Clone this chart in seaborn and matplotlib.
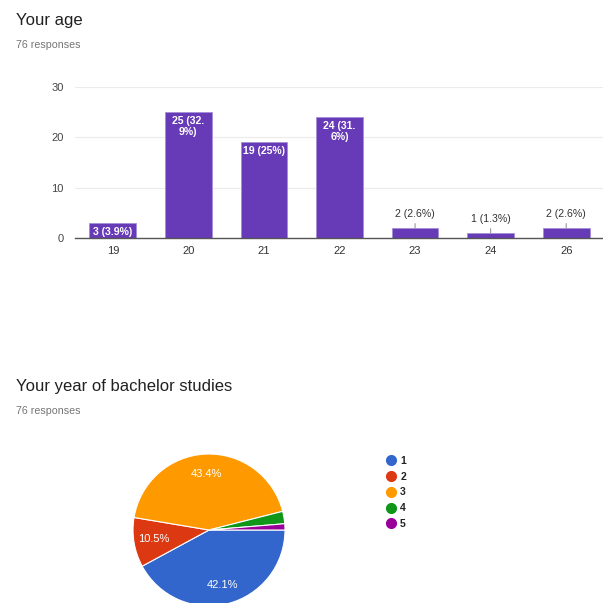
import matplotlib
matplotlib.use('Agg')
import matplotlib.pyplot as plt
from matplotlib.lines import Line2D
import seaborn as sns
import pandas as pd
import numpy as np

# ---- data ----
ages = ['19', '20', '21', '22', '23', '24', '26']
age_counts = [3, 25, 19, 24, 2, 1, 2]
age_labels = ['3 (3.9%)', '25 (32.\n9%)', '19 (25%)', '24 (31.\n6%)',
              '2 (2.6%)', '1 (1.3%)', '2 (2.6%)']
age_yticks = [0, 10, 20, 30]

year_labels = ['1', '2', '3', '4', '5']
year_counts = [32, 8, 33, 2, 1]
year_pct_text = ['42.1%', '10.5%', '43.4%', '', '']
year_colors = ['#3366cc', '#dc3912', '#ff9900', '#109618', '#990099']

title1 = 'Your age'
title2 = 'Your year of bachelor studies'
subtitle = '76 responses'

# ---- style ----
sns.set_theme(style='white')
plt.rcParams['font.family'] = ['Liberation Sans', 'DejaVu Sans']

W = H = 603
fig = plt.figure(figsize=(W / 100, H / 100), dpi=100)
fig.patch.set_facecolor('white')


def px(x, y):
    return x / W, 1 - y / H


def box(left, top, width, height):
    return [left / W, 1 - (top + height) / H, width / W, height / H]


# titles
fig.text(*px(16, 21), title1, fontsize=12, color='#212121', va='center', ha='left')
fig.text(*px(16, 45), subtitle, fontsize=7.7, color='#757575', va='center', ha='left')
fig.text(*px(16, 387), title2, fontsize=12, color='#212121', va='center', ha='left')
fig.text(*px(16, 411), subtitle, fontsize=7.7, color='#757575', va='center', ha='left')

# ---- bar chart ----
ax = fig.add_axes(box(75, 87, 529, 151))
df = pd.DataFrame({'age': ages, 'count': age_counts})
sns.barplot(data=df, x='age', y='count', order=ages, color='#673ab7',
            saturation=1, width=0.62, edgecolor='#a58fd6', linewidth=0.6, ax=ax)
ax.set_ylim(0, 30)
ax.set_xlim(-0.5, len(ages) - 0.5)
ax.set_yticks(age_yticks)
ax.yaxis.grid(True, color='#ebebeb', linewidth=0.8)
ax.set_axisbelow(True)
for s in ['top', 'right', 'left']:
    ax.spines[s].set_visible(False)
ax.spines['bottom'].set_color('#555555')
ax.spines['bottom'].set_linewidth(1.0)
ax.set_xlabel('')
ax.set_ylabel('')
ax.tick_params(axis='y', length=0, pad=8, labelsize=8, labelcolor='#444444')
ax.tick_params(axis='x', length=0, pad=6, labelsize=8, labelcolor='#333333')

for i, (v, lab) in enumerate(zip(age_counts, age_labels)):
    if v >= 3:
        ax.annotate(lab, xy=(i, v), xytext=(0, -4), textcoords='offset pixels',
                    ha='center', va='top', color='white', fontsize=7.6,
                    fontweight='bold', linespacing=1.15)
    else:
        ax.annotate(lab, xy=(i, v), xytext=(0, 14), textcoords='offset pixels',
                    ha='center', va='center', color='#333333', fontsize=7.6,
                    arrowprops=dict(arrowstyle='-', color='#999999', lw=0.8,
                                    shrinkA=1, shrinkB=0),
                    annotation_clip=False)

# ---- pie chart ----
R = 76
pax = fig.add_axes(box(209 - R, 530 - R, 2 * R, 2 * R))
wedges, _ = pax.pie(year_counts, colors=year_colors, startangle=0,
                    counterclock=False,
                    wedgeprops=dict(edgecolor='white', linewidth=0.8, clip_on=False))
pax.set_xlim(-1, 1)
pax.set_ylim(-1, 1)
pax.set_aspect('equal')
pax.axis('off')

total = sum(year_counts)
angle = 0.0
for c, t in zip(year_counts, year_pct_text):
    span = 360.0 * c / total
    mid = np.deg2rad(angle - span / 2)
    angle -= span
    if t:
        r = 0.74
        pax.text(r * np.cos(mid), r * np.sin(mid), t, ha='center', va='center',
                 color='white', fontsize=8)

handles = [Line2D([0], [0], marker='o', linestyle='', markersize=7,
                  markerfacecolor=c, markeredgecolor=c) for c in year_colors]
leg = fig.legend(handles, year_labels, loc='upper left', bbox_to_anchor=px(383, 456),
                 frameon=False, fontsize=7.5, labelspacing=0.55, handletextpad=0.15,
                 handlelength=1.5, borderaxespad=0, borderpad=0)
for t in leg.get_texts():
    t.set_color('#222222')
    t.set_fontweight('bold')

fig.savefig('out.png', dpi=100, facecolor='white')
